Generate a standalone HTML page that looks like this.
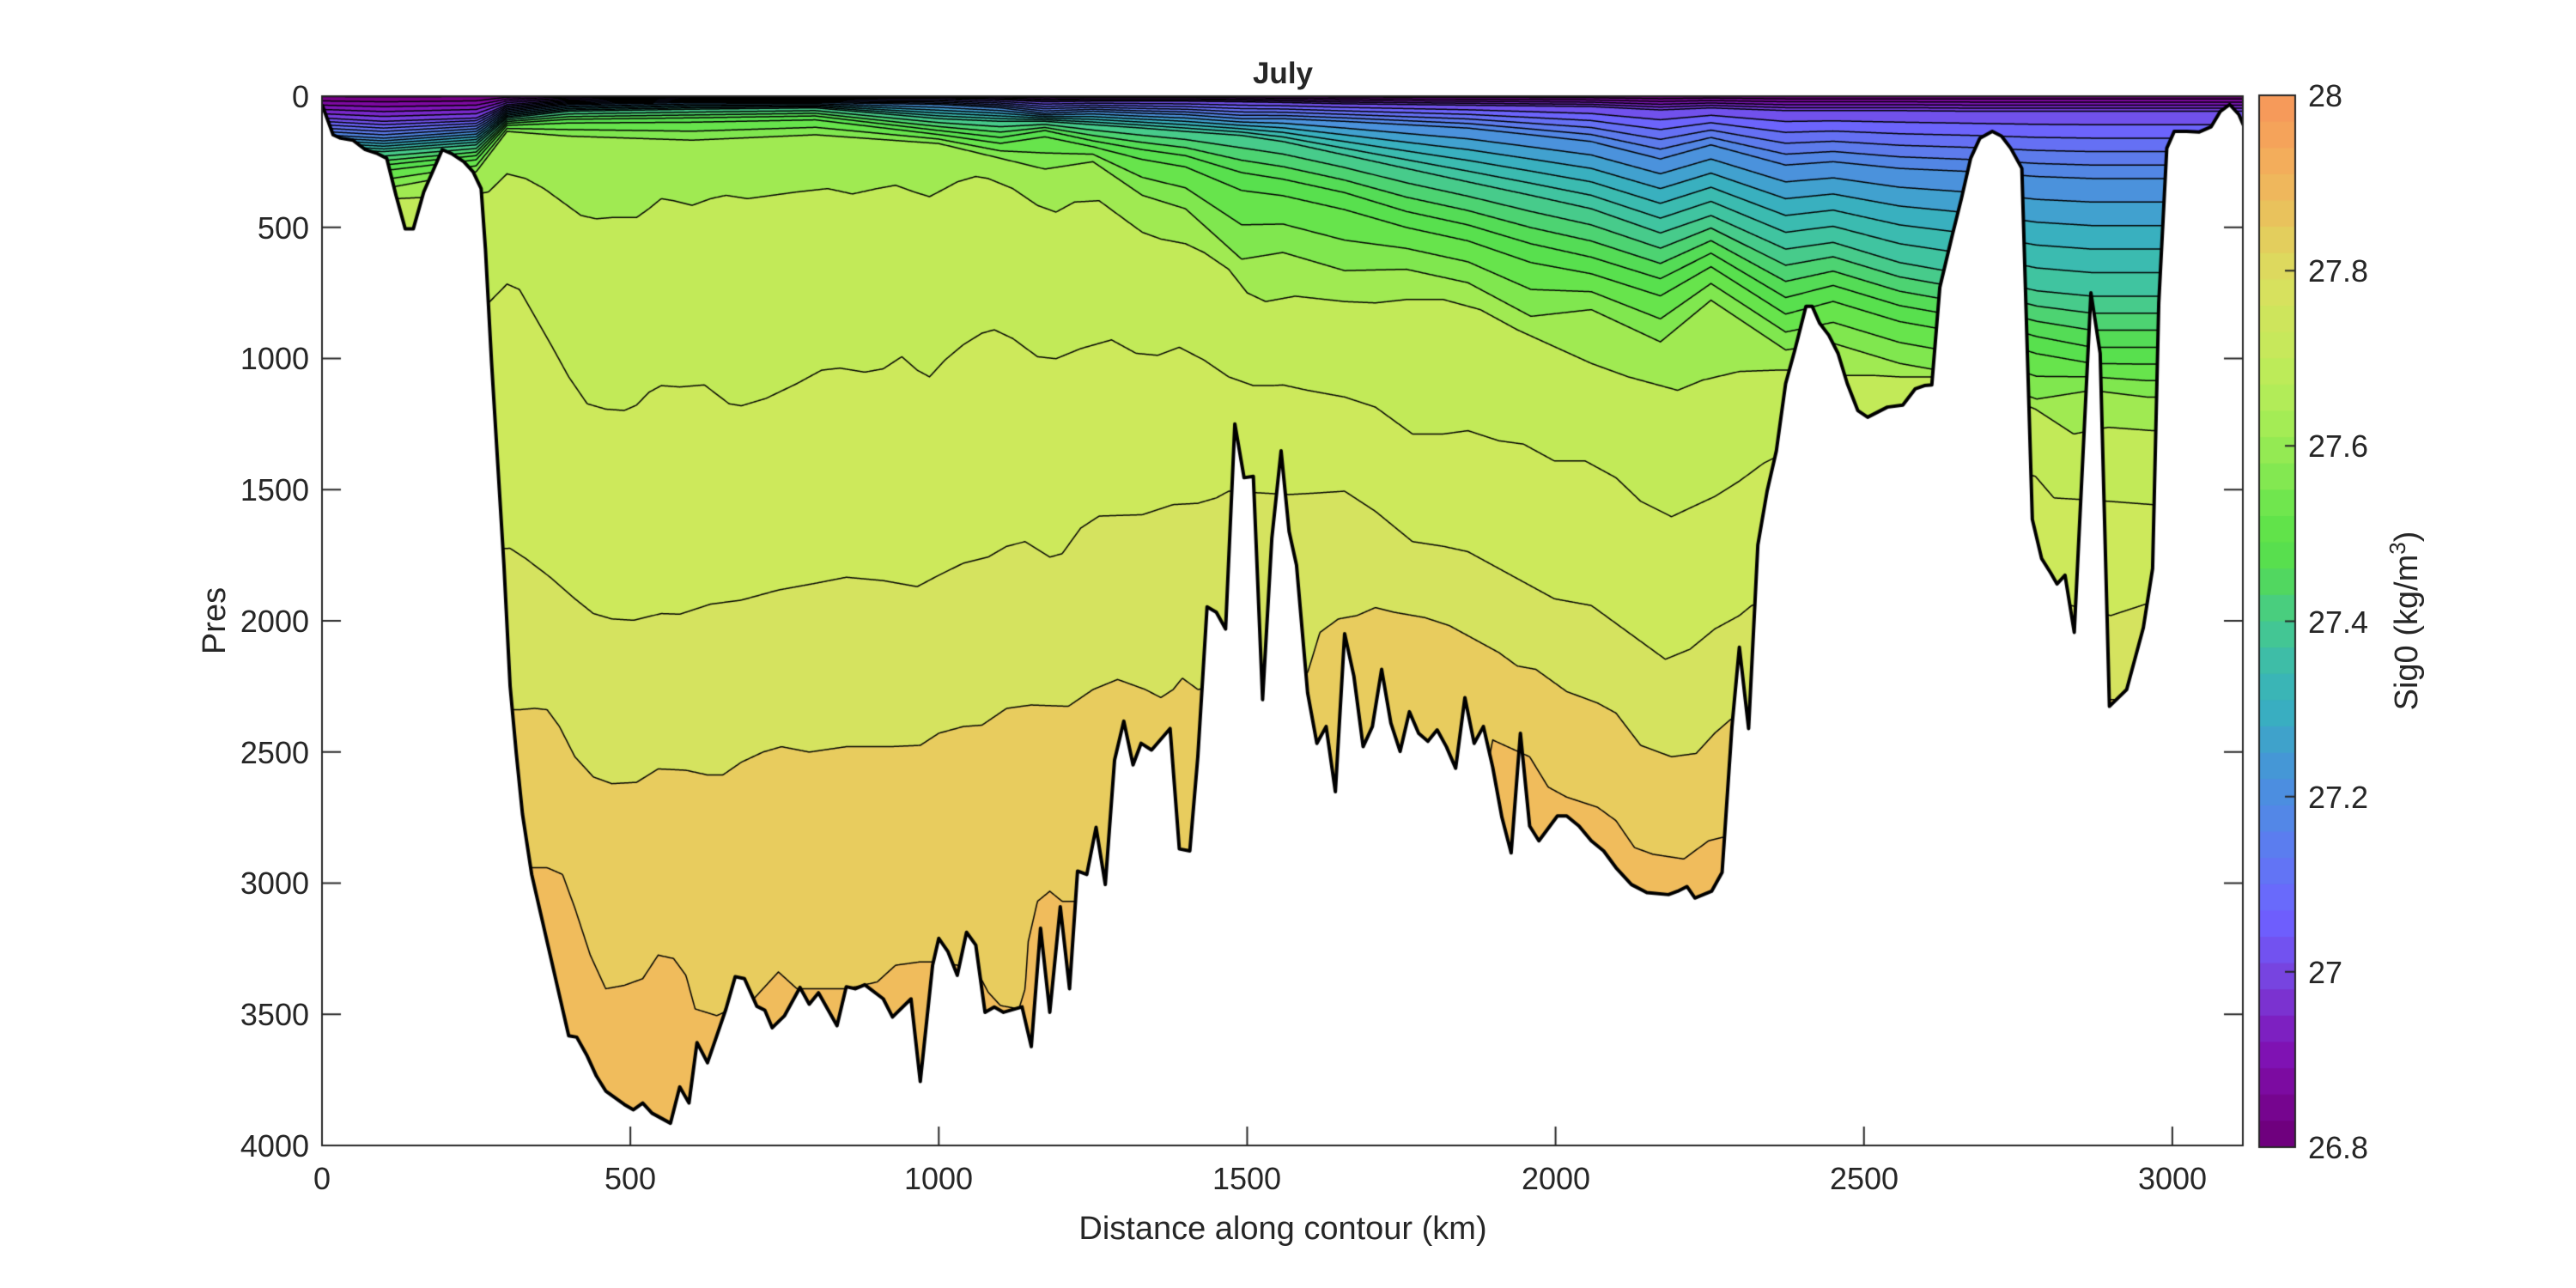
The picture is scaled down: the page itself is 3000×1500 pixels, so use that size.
<!DOCTYPE html>
<html><head><meta charset="utf-8"><style>
html,body{margin:0;padding:0;background:#fff;}
#wrap{position:relative;width:3000px;height:1500px;overflow:hidden;}
canvas,svg{position:absolute;left:0;top:0;}
text{font-family:"Liberation Sans",Arial,sans-serif;fill:#262626;}
</style></head><body><div id="wrap">
<canvas id="c" width="3000" height="1500"></canvas>
<svg width="3000" height="1500" viewBox="0 0 3000 1500">
<text x="1494" y="97" font-size="35" font-weight="bold" text-anchor="middle">July</text>
<g font-size="36" text-anchor="end">
<text x="360" y="125">0</text><text x="360" y="278">500</text><text x="360" y="430">1000</text><text x="360" y="583">1500</text><text x="360" y="736">2000</text><text x="360" y="889">2500</text><text x="360" y="1041">3000</text><text x="360" y="1194">3500</text><text x="360" y="1347">4000</text>
</g>
<g font-size="36" text-anchor="middle">
<text x="375" y="1385">0</text><text x="734" y="1385">500</text><text x="1093" y="1385">1000</text><text x="1452" y="1385">1500</text><text x="1812" y="1385">2000</text><text x="2171" y="1385">2500</text><text x="2530" y="1385">3000</text>
</g>
<text x="1494" y="1443" font-size="38" text-anchor="middle">Distance along contour (km)</text>
<text transform="translate(262,723) rotate(-90)" font-size="38" text-anchor="middle">Pres</text>
<g font-size="36">
<text x="2688" y="124">28</text><text x="2688" y="328">27.8</text><text x="2688" y="532">27.6</text><text x="2688" y="737">27.4</text><text x="2688" y="941">27.2</text><text x="2688" y="1145">27</text><text x="2688" y="1349">26.8</text>
</g>
<text transform="translate(2815,723) rotate(-90)" font-size="38" text-anchor="middle">Sig0 (kg/m<tspan dy="-14" font-size="26">3</tspan><tspan dy="14">)</tspan></text>
</svg>
</div>
<script>
const cv=document.getElementById('c'),ctx=cv.getContext('2d');
const AX0=375,AX1=2612,AY0=112,AY1=1334;
const kx=km=>375+km*0.7183, zy2y=z=>110+z/1.277;
function hex(h){return [parseInt(h.substr(1,2),16),parseInt(h.substr(3,2),16),parseInt(h.substr(5,2),16)];}
const CM=[[26.78,'#6a0070'],[26.82,'#780088'],[26.88,'#800cae'],[26.94,'#7a28cc'],[27.00,'#7448e4'],[27.06,'#6c64fc'],[27.12,'#6276f0'],[27.18,'#5286e4'],[27.24,'#4898d8'],[27.28,'#3aaac6'],[27.32,'#38b6b8'],[27.38,'#40c4a0'],[27.44,'#4ace80'],[27.50,'#54dc56'],[27.56,'#5ae24a'],[27.60,'#74e64e'],[27.64,'#8ce850'],[27.67,'#a0ea52'],[27.73,'#c2ea58'],[27.79,'#cde95b'],[27.85,'#d5e35f'],[27.91,'#e8cc5e'],[27.97,'#f0bc5c'],[28.05,'#f5a55a']].map(a=>[a[0],hex(a[1])]);
function cmap(v){if(v<=CM[0][0])return CM[0][1];for(let i=1;i<CM.length;i++){if(v<=CM[i][0]){const t=(v-CM[i-1][0])/(CM[i][0]-CM[i-1][0]);const a=CM[i-1][1],b=CM[i][1];return a.map((x,j)=>Math.round(x+(b[j]-x)*t));}}return CM[CM.length-1][1];}
function interp(pts,km){if(km<=pts[0][0])return pts[0][1];for(let i=1;i<pts.length;i++){if(km<=pts[i][0]){const t=(km-pts[i-1][0])/(pts[i][0]-pts[i-1][0]);return pts[i-1][1]+(pts[i][1]-pts[i-1][1])*t;}}return pts[pts.length-1][1];}
const T=[[0,35,60,80,100,130],[100,40,65,85,110,140],[250,35,55,75,95,115],[300,15,25,35,45,55],[400,8,15,25,40,62],[600,6,12,22,38,68],[800,6,12,20,35,60],[1000,6,15,36,58,73],[1100,8,20,40,70,95],[1172,11,28,40,57,111],[1250,10,25,45,75,100],[1330,10,28,50,90,150],[1400,10,30,55,100,170],[1491,11,36,61,130,245],[1558,12,36,70,140,235],[1658,14,40,90,160,262],[1758,15,45,110,190,260],[1858,16,50,130,210,280],[1960,17,60,150,240,330],[2058,18,70,170,260,320],[2170,23,96,206,291,368],[2252,20,75,180,250,306],[2373,24,105,230,320,380],[2450,24,100,220,300,370],[2558,24,110,250,330,400],[2680,25,115,270,350,420],[2780,25,122,292,377,453],[2870,25,125,300,395,440],[2958,25,125,300,395,450],[3120,25,125,300,395,450]];
const U=[1,2,3,4,5].map(j=>T.map(r=>[r[0],r[j]]));
const R=(arr,off)=>arr.map(p=>[p[0]+off,p[1]]);
const D5=[[0,160],[240,150],[270,145],[300,118],[330,125],[360,140],[390,160],[420,180],[445,185],[470,183],[510,183],[530,170],[550,155],[570,158],[600,165],[630,155],[655,150],[690,155],[730,150],[770,145],[820,140],[860,148],[900,140],[930,135],[960,145],[985,152],[1010,140],[1030,130],[1060,122],[1080,125],[1120,140],[1160,165],[1190,175],[1220,160],[1260,158],[1300,185],[1330,205],[1360,215],[1400,222],[1430,235],[1470,260],[1500,295],[1530,308]].concat(R([[20,300],[100,308],[150,310],[200,305],[260,305],[320,320],[380,350],[440,375],[500,400],[560,420],[600,430],[640,440],[680,425],[740,412],[800,410],[850,410],[900,418],[960,418],[1000,420],[1055,420]],1558)).concat([[2650,420],[2778,468],[2840,505],[2896,495],[2968,500],[3120,500]]);
const D4=[[0,320],[270,310],[300,282],[320,290],[345,330],[370,370],[400,420],[430,460],[460,468],[490,470],[510,462],[530,443],[550,433],[580,435],[620,432],[660,460],[680,463],[720,452],[770,430],[810,410],[840,407],[880,413],[910,408],[940,390],[965,410],[985,420],[1010,395],[1040,372],[1070,355],[1090,350],[1120,363],[1160,390],[1190,393],[1230,378],[1280,365],[1320,385],[1355,388],[1390,376],[1430,395],[1470,420],[1510,433],[1540,433]].concat(R([[0,432],[40,440],[100,450],[150,465],[210,505],[260,505],[300,500],[350,515],[390,520],[440,545],[490,545],[540,570],[580,605],[630,628],[660,615],[700,598],[740,575],[780,548]],1558)).concat([[2400,520],[2500,500],[2778,568],[2808,600],[2896,605],[2968,610],[3120,600]]);
const D3=[[0,680],[305,675],[330,690],[370,718],[410,750],[440,772],[470,780],[505,782],[550,772],[580,773],[630,758],[680,752],[740,737],[800,727],[850,718],[910,723],[965,732],[1000,715],[1040,697],[1080,688],[1110,672],[1140,665],[1180,688],[1200,683],[1230,645],[1260,627],[1330,625],[1380,610],[1420,608],[1450,600],[1470,590],[1568,595],[1608,593],[1658,590],[1708,620],[1768,665],[1818,672],[1858,680],[1928,715],[1998,750],[2058,760],[2118,800],[2178,840],[2218,825],[2258,795],[2298,775],[2318,760],[2400,740],[2750,740],[2900,775],[2960,757],[3120,740]];
const D2=[[0,915],[320,915],[345,913],[365,915],[385,940],[410,985],[440,1015],[470,1025],[510,1023],[545,1003],[590,1005],[625,1012],[650,1012],[680,993],[715,978],[745,970],[790,978],[850,970],[920,970],[970,968],[1000,950],[1040,940],[1070,938],[1110,913],[1150,908],[1210,910],[1250,885],[1290,870],[1335,885],[1360,897],[1380,885],[1395,868],[1420,885],[1500,870],[1598,860],[1618,800],[1648,780],[1678,775],[1708,763],[1738,770],[1788,778],[1828,790],[1878,815],[1908,830],[1938,850],[1968,855],[2018,888],[2068,905],[2098,920],[2138,968],[2188,985],[2228,980],[2258,950],[2283,930],[2350,900],[3120,900]];
const D1=[[0,1150],[300,1150],[365,1150],[390,1160],[410,1210],[435,1280],[460,1330],[490,1325],[520,1315],[545,1280],[570,1285],[590,1310],[605,1360],[640,1370],[700,1345],[740,1305],[770,1330],[850,1330],[900,1320],[930,1295],[970,1290],[1000,1290],[1060,1300],[1080,1335],[1100,1355],[1130,1360],[1140,1330],[1145,1260],[1160,1200],[1180,1185],[1200,1200],[1300,1200],[1500,1150],[1700,1060],[1890,1000],[1898,960],[1958,985],[1988,1030],[2018,1045],[2068,1060],[2098,1080],[2128,1120],[2158,1130],[2208,1137],[2248,1110],[2270,1105],[2350,1100],[3120,1100]];
const KV=[26.78,27.0,27.2,27.4,27.55,27.64,27.70,27.76,27.82,27.88,27.94,28.05];
const KC=[null,U[0],U[1],U[2],U[3],U[4],D5,D4,D3,D2,D1,null];
const B=[];for(let k=0;k<=21;k++)B.push(+(26.80+0.04*k).toFixed(2));B.push(27.70,27.76,27.82,27.88,27.94);
const mids=[];mids.push(26.79);for(let i=0;i<B.length-1;i++)mids.push((B[i]+B[i+1])/2);mids.push(27.97);
const cols=mids.map(m=>{const c=cmap(m);return 'rgb('+c.join(',')+')';});
const lines=B.map(()=>[]);
for(let x=AX0;x<AX1;x++){
 const km=(x+0.5-375)/0.7183;
 const ys=[];
 for(let i=0;i<KV.length;i++){let y;if(i==0)y=zy2y(0);else if(i==KV.length-1)y=zy2y(2000);else y=zy2y(interp(KC[i],km));if(i>0&&y<ys[i-1]+0.3)y=ys[i-1]+0.3;ys.push(y);}
 const by=B.map(v=>{for(let i=1;i<KV.length;i++){if(v<=KV[i]){const t=(v-KV[i-1])/(KV[i]-KV[i-1]);return ys[i-1]+(ys[i]-ys[i-1])*t;}}return ys[ys.length-1];});
 let prev=AY0;
 for(let i=0;i<=B.length;i++){const nxt=i<B.length?Math.max(by[i],AY0):AY1;if(nxt>prev){ctx.fillStyle=cols[i];ctx.fillRect(x,prev,1.2,Math.min(nxt,AY1)-prev+0.6);}prev=Math.max(prev,nxt);}
 by.forEach((y,i)=>lines[i].push([x+0.5,y]));
}
ctx.save();ctx.beginPath();ctx.rect(AX0,AY0,AX1-AX0,AY1-AY0);ctx.clip();
ctx.strokeStyle='#000';ctx.lineWidth=1.5;
lines.forEach(l=>{ctx.beginPath();l.forEach((p,i)=>{if(p[1]<AY0+0.5)p=[p[0],AY0+0.5];i?ctx.lineTo(p[0],p[1]):ctx.moveTo(p[0],p[1]);});ctx.stroke();});
const BL=[[0,15],[18,60],[30,65],[50,68],[70,82],[90,88],[105,95],[120,150],[135,200],[148,200],[165,145],[195,82],[210,88],[230,100],[245,115],[258,140],[265,230],[275,400],[285,550],[295,700],[305,880],[315,980],[325,1070],[340,1160],[355,1220],[370,1280],[385,1340],[400,1400],[413,1402],[430,1430],[445,1460],[460,1482],[475,1492],[490,1502],[505,1510],[520,1500],[535,1515],[565,1530],[580,1476],[595,1500],[608,1410],[625,1440],[640,1400],[655,1360],[670,1312],[685,1315],[705,1356],[718,1362],[730,1388],[750,1370],[775,1328],[790,1353],[805,1336],[835,1385],[850,1327],[865,1330],[880,1324],[910,1345],[925,1372],[955,1345],[970,1468],[990,1295],[1000,1255],[1015,1275],[1030,1310],[1045,1246],[1060,1265],[1075,1365],[1090,1357],[1105,1365],[1135,1357],[1150,1416],[1165,1240],[1180,1365],[1197,1208],[1212,1330],[1225,1155],[1240,1160],[1255,1090],[1270,1175],[1285,990],[1300,932],[1315,997],[1328,965],[1345,975],[1375,943],[1390,1122],[1407,1125],[1420,985],[1435,762],[1450,770],[1465,795],[1480,490],[1495,570],[1510,568],[1525,900],[1540,660],[1555,530]].concat(R([[10,650],[22,700],[40,890],[55,965],[70,940],[85,1037],[100,802],[115,865],[130,970],[145,940],[160,855],[175,935],[190,977],[205,918],[220,950],[235,962],[250,945],[265,970],[280,1002],[295,897],[310,965],[325,940],[340,1000],[355,1075],[370,1128],[385,950],[400,1088],[415,1110],[445,1073],[460,1073],[480,1088],[500,1110],[520,1125],[540,1150],[565,1175],[590,1187],[625,1190],[640,1185],[655,1178],[668,1195],[695,1185],[712,1157],[728,940],[740,822],[755,943],[770,670],[785,590],[800,530],[815,430],[830,380],[848,315],[858,315],[870,340],[885,358],[900,385],[915,430],[932,470],[948,480],[965,472],[980,465],[1005,462],[1025,438],[1040,433],[1052,432],[1065,287],[1085,210],[1100,155],[1115,95],[1130,65],[1150,55],[1165,62],[1180,80],[1198,110],[1215,632],[1230,690],[1245,712],[1255,728],[1268,715],[1283,800],[1310,295],[1325,385],[1340,910],[1368,885],[1395,793],[1410,705],[1420,310],[1433,80],[1445,55],[1465,55],[1485,56],[1505,48],[1520,25],[1535,15],[1550,30],[1563,58]],1558));
const BP=BL.map(p=>[kx(p[0]),zy2y(p[1])]);
ctx.fillStyle='#fff';ctx.beginPath();ctx.moveTo(AX0-5,BP[0][1]);BP.forEach(p=>ctx.lineTo(p[0],p[1]));ctx.lineTo(AX1+5,BP[BP.length-1][1]);ctx.lineTo(AX1+5,AY1+5);ctx.lineTo(AX0-5,AY1+5);ctx.closePath();ctx.fill();
ctx.strokeStyle='#000';ctx.lineWidth=4;ctx.lineJoin='round';ctx.beginPath();BP.forEach((p,i)=>i?ctx.lineTo(p[0],p[1]):ctx.moveTo(p[0],p[1]));ctx.stroke();
ctx.restore();
ctx.strokeStyle='#262626';ctx.lineWidth=2;ctx.strokeRect(AX0,AY0,AX1-AX0,AY1-AY0);
ctx.beginPath();
for(let p=0;p<=4000;p+=500){const y=AY0+p*0.3055;ctx.moveTo(AX0,y);ctx.lineTo(AX0+22,y);ctx.moveTo(AX1,y);ctx.lineTo(AX1-22,y);}
for(let k=0;k<=3000;k+=500){const x=kx(k);ctx.moveTo(x,AY1);ctx.lineTo(x,AY1-22);}
ctx.stroke();
const CB=[[28,'#f7955a'],[27.95,'#f5a55a'],[27.9,'#f0b55c'],[27.86,'#e8c45c'],[27.82,'#e0d45e'],[27.78,'#d8e05e'],[27.74,'#cde65c'],[27.70,'#c3ea5a'],[27.66,'#b4ec58'],[27.62,'#a2ec55'],[27.58,'#8ce952'],[27.54,'#73e64e'],[27.50,'#5ee34a'],[27.46,'#55dc50'],[27.42,'#4ad07a'],[27.38,'#42c498'],[27.34,'#3cb8b0'],[27.30,'#38b0c0'],[27.26,'#40a0cc'],[27.22,'#4892dc'],[27.18,'#5288e6'],[27.14,'#5c7cf0'],[27.10,'#6670f8'],[27.06,'#6e60ff'],[27.02,'#7250ee'],[26.98,'#7a3cd8'],[26.94,'#7c22c4'],[26.90,'#8010b0'],[26.86,'#7a0898'],[26.82,'#700080'],[26.8,'#6c0078']].map(a=>[a[0],hex(a[1])]);
function cbc(v){for(let i=1;i<CB.length;i++){if(v>=CB[i][0]){const t=(CB[i-1][0]-v)/(CB[i-1][0]-CB[i][0]);const a=CB[i-1][1],b=CB[i][1];return 'rgb('+a.map((x,j)=>Math.round(x+(b[j]-x)*t)).join(',')+')';}}return 'rgb(108,0,120)';}
const CBX=2631,CBW=42,CBT=111,CBH=1225;
for(let i=0;i<40;i++){const v=28-(i+0.5)*0.03;ctx.fillStyle=cbc(v);const y0=CBT+i*CBH/40;ctx.fillRect(CBX,y0,CBW,CBH/40+1);}
ctx.strokeStyle='#262626';ctx.lineWidth=2;ctx.strokeRect(CBX,CBT,CBW,CBH);
ctx.beginPath();for(let v=26.8;v<=28.001;v+=0.2){const y=CBT+(28-v)/1.2*CBH;ctx.moveTo(CBX+CBW,y);ctx.lineTo(CBX+CBW-12,y);}ctx.stroke();
</script>
</body></html>
